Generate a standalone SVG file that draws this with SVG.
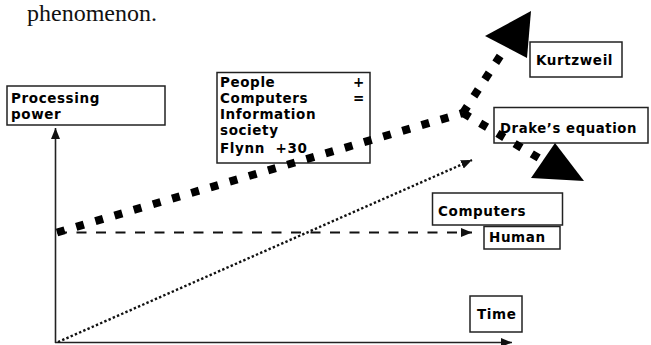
<svg xmlns="http://www.w3.org/2000/svg" width="651" height="345" viewBox="0 0 651 345">
<style>
.box{fill:#fff;stroke:#222;stroke-width:1.5}
.lbl{font-family:"DejaVu Sans","Liberation Sans",sans-serif;font-weight:bold;font-size:13.5px;letter-spacing:0.6px;fill:#000}
.thick{fill:none;stroke:#000;stroke-width:8;stroke-dasharray:8 12}
.axis{fill:none;stroke:#222;stroke-width:1.6}
.head{fill:#000}
</style>
<defs>
<marker id="ah" markerUnits="userSpaceOnUse" markerWidth="12" markerHeight="10" refX="11" refY="4.5" orient="auto">
<path d="M0,0 L11,4.5 L0,9 z" fill="#111"/>
</marker>
</defs>
<rect width="651" height="345" fill="#fff"/>
<text x="27" y="21" font-family="Liberation Serif,serif" font-size="24" fill="#111">phenomenon.</text>

<g id="node-processing">
<rect class="box" x="7" y="86" width="158" height="39"/>
<text class="lbl" x="11" y="102.5">Processing</text>
<text class="lbl" x="11" y="118.5">power</text>
</g>
<g id="node-people">
<rect class="box" x="217" y="72.5" width="153" height="90.5"/>
<text class="lbl" x="220" y="86.5">People</text>
<text class="lbl" x="220" y="102.5">Computers</text>
<text class="lbl" x="220" y="118.5">Information</text>
<text class="lbl" x="220" y="134.5">society</text>
<text class="lbl" x="220" y="153" xml:space="preserve">Flynn  +30</text>
<text class="lbl" x="353" y="86.5">+</text>
<text class="lbl" x="353" y="102.5">=</text>
</g>
<g id="node-kurtzweil">
<rect class="box" x="530" y="42" width="92" height="35"/>
<text class="lbl" x="536" y="65">Kurtzweil</text>
</g>
<g id="node-drake">
<rect class="box" x="494" y="107.5" width="154" height="35.5"/>
<text class="lbl" x="500" y="133" textLength="137" lengthAdjust="spacingAndGlyphs">Drake’s equation</text>
</g>
<g id="node-computers">
<rect class="box" x="432.5" y="193" width="130" height="32"/>
<text class="lbl" x="438" y="216">Computers</text>
</g>
<g id="node-human">
<rect class="box" x="484" y="226.5" width="76" height="22.5"/>
<text class="lbl" x="489" y="242">Human</text>
</g>
<g id="node-time">
<rect class="box" x="470" y="296" width="52" height="36"/>
<text class="lbl" x="477" y="319">Time</text>
</g>

<g id="connectors">
<line class="axis" x1="55.5" y1="343" x2="55.5" y2="128" marker-end="url(#ah)"/>
<line class="axis" x1="55" y1="342.5" x2="512" y2="342.5" marker-end="url(#ah)"/>
<line x1="58" y1="342" x2="472" y2="160" stroke="#111" stroke-width="2.4" stroke-dasharray="2.4 2.2" marker-end="url(#ah)"/>
<line x1="57" y1="232.5" x2="472" y2="232.5" stroke="#111" stroke-width="2" stroke-dasharray="10 9.5" marker-end="url(#ah)"/>
<path class="thick" d="M57,232.5 L463,113"/>
<path class="thick" d="M463,113 L506,47"/>
<path class="thick" d="M463,113 L543,160.5"/>
<polygon class="head" points="531,11 485,36 527,58"/>
<polygon class="head" points="584,181 555,143 531,178"/>
</g>
</svg>
